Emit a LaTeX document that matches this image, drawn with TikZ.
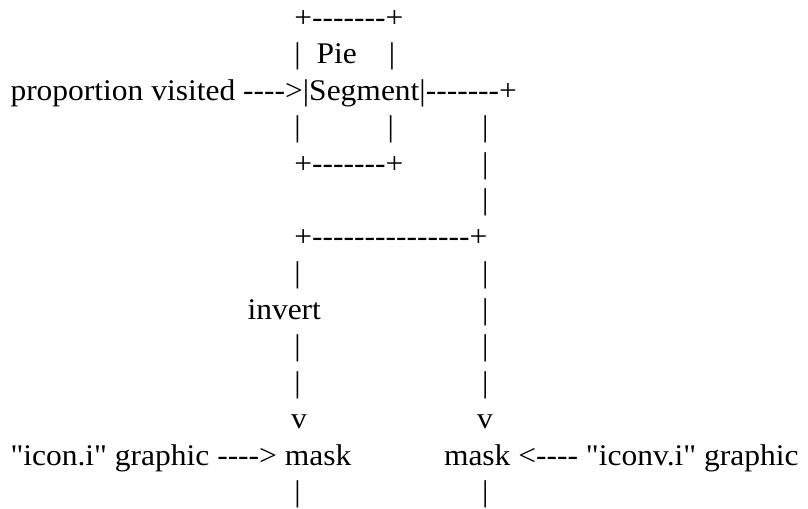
\documentclass[tikz,border=0pt]{standalone}
\usepackage{fontspec}
\newfontfamily\asciifont{Liberation Serif}[FakeStretch=1.05]

\tikzset{asc/.style={anchor=base west, inner sep=0pt, outer sep=0pt,
    font=\asciifont\fontsize{22.5}{27}\selectfont}}

\begin{document}
\begin{tikzpicture}[x=0.75pt,y=-0.75pt]
    \useasboundingbox (0,0) rectangle (808,508);
    % pie segment box
    \node (boxtop) at (294.4,27) [asc] {+-------+};
    \node (pieleft) at (294.4,63.5) [asc] {|};
    \node (pie) at (316.5,63.5) [asc] {Pie};
    \node (pieright) at (388.8,63.5) [asc] {|};
    \node (segline) at (10.5,100) [asc] {proportion visited ---->|Segment|-------+};
    \node (boxleft) at (294.4,136.5) [asc] {|};
    \node (boxright) at (387.6,136.5) [asc] {|};
    \node (outa) at (482,136.5) [asc] {|};
    \node (boxbot) at (294.4,173) [asc] {+-------+};
    \node (outb) at (482,173) [asc] {|};
    \node (outc) at (482,209.5) [asc] {|};
    % split
    \node (split) at (294.4,246) [asc] {+---------------+};
    \node (lefta) at (294.4,282.5) [asc] {|};
    \node (righta) at (482,282.5) [asc] {|};
    \node (invert) at (247.5,319) [asc] {invert};
    \node (rightb) at (482,319) [asc] {|};
    \node (leftc) at (294.4,355.5) [asc] {|};
    \node (rightc) at (482,355.5) [asc] {|};
    \node (leftd) at (294.4,392) [asc] {|};
    \node (rightd) at (482,392) [asc] {|};
    \node (leftv) at (291,428.5) [asc] {v};
    \node (rightv) at (477,428.5) [asc] {v};
    % masks
    \node (iconmask) at (10.5,465) [asc] {"icon.i" graphic ----> mask};
    \node (iconvmask) at (444,465) [asc] {mask <---- "iconv.i" graphic};
    \node (lefte) at (294.4,501.5) [asc] {|};
    \node (righte) at (482,501.5) [asc] {|};
\end{tikzpicture}
\end{document}
